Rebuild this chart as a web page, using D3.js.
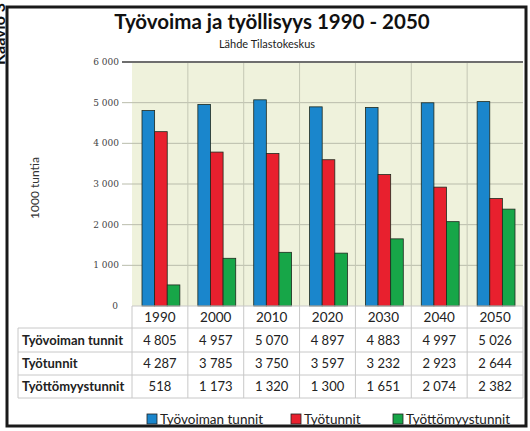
<!DOCTYPE html>
<html lang="fi">
<head>
<meta charset="UTF-8">
<script src="https://d3js.org/d3.v7.min.js"></script>
<style>
  body { margin: 0; background: #fff; }
  svg { display: block; font-family: Lato, "Liberation Sans", sans-serif; }
</style>
<title>Työvoima ja työllisyys 1990 - 2050</title>
</head>
<body>
<script>
// data
const years = ["1990", "2000", "2010", "2020", "2030", "2040", "2050"];
const tyovoima = [4805, 4957, 5070, 4897, 4883, 4997, 5026];
const tyotunnit = [4287, 3785, 3750, 3597, 3232, 2923, 2644];
const tyottomyys = [518, 1173, 1320, 1300, 1651, 2074, 2382];
const seriesNames = ["Työvoiman tunnit", "Työtunnit", "Työttömyystunnit"];
const seriesColors = ["#1a86cc", "#e8202e", "#17a648"];
const yTicks = [0, 1000, 2000, 3000, 4000, 5000, 6000];

const width = 530, height = 431;
const plot = { left: 132, right: 523, top: 62, bottom: 306 };

const svg = d3.select("body").append("svg")
    .attr("width", width)
    .attr("height", height);

// outer black frame
svg.append("rect")
    .attr("x", 7).attr("y", 7)
    .attr("width", 519).attr("height", 419)
    .attr("fill", "#fff")
    .attr("stroke", "#1a1a1a")
    .attr("stroke-width", 3);

// caption at the left edge, left of the frame (cut by the page edge in the scan too)
svg.append("text")
    .attr("transform", "translate(5,3) rotate(-90)")
    .attr("text-anchor", "end")
    .attr("font-size", 16)
    .attr("font-weight", "bold")
    .attr("fill", "#111")
    .text("Kaavio 3");

const x = d3.scaleBand()
    .domain(years)
    .range([plot.left, plot.right]);

const xInner = d3.scaleBand()
    .domain(seriesNames)
    .range([10, x.bandwidth() - 8])
    .padding(0);

const y = d3.scaleLinear()
    .domain([0, 6000])
    .range([plot.bottom, plot.top]);

// plot background
svg.append("rect")
    .attr("x", plot.left).attr("y", plot.top)
    .attr("width", plot.right - plot.left)
    .attr("height", plot.bottom - plot.top)
    .attr("fill", "#eff2dc");

// horizontal gridlines + ticks
svg.append("g").selectAll("line")
    .data(yTicks.filter(d => d > 0 && d < 6000))
    .join("line")
    .attr("x1", 122).attr("x2", plot.right)
    .attr("y1", d => y(d)).attr("y2", d => y(d))
    .attr("stroke", "#b9bcab")
    .attr("stroke-width", 1);

// vertical category separators
svg.append("g").selectAll("line")
    .data(years.slice(1))
    .join("line")
    .attr("x1", d => x(d)).attr("x2", d => x(d))
    .attr("y1", plot.top).attr("y2", plot.bottom)
    .attr("stroke", "#c4c7b4");

// top line at 6000
svg.append("line")
    .attr("x1", 122).attr("x2", plot.right)
    .attr("y1", y(6000)).attr("y2", y(6000))
    .attr("stroke", "#6e6e6e")
    .attr("stroke-width", 2);

// y tick labels
svg.append("g").selectAll("text")
    .data(yTicks)
    .join("text")
    .attr("x", d => d === 0 ? 118 : 119)
    .attr("y", d => y(d) + 3)
    .attr("text-anchor", "end")
    .attr("font-family", "'DejaVu Serif', serif")
    .attr("font-size", 9)
    .attr("fill", "#444")
    .text(d => d === 0 ? "0" : d3.format(",")(d).replace(",", " "));

// y axis title
svg.append("text")
    .attr("transform", `translate(39,${(plot.top + plot.bottom) / 2 + 4}) rotate(-90)`)
    .attr("text-anchor", "middle")
    .attr("font-size", 12)
    .attr("fill", "#333")
    .text("1000 tuntia");

// bars
const series = [tyovoima, tyotunnit, tyottomyys];
const groups = svg.append("g").selectAll("g")
    .data(years)
    .join("g")
    .attr("transform", d => `translate(${x(d)},0)`);

groups.selectAll("rect")
    .data((yr, i) => series.map((s, k) => ({ name: seriesNames[k], value: s[i], color: seriesColors[k] })))
    .join("rect")
    .attr("x", d => xInner(d.name))
    .attr("width", xInner.bandwidth())
    .attr("y", d => y(d.value))
    .attr("height", d => y(0) - y(d.value))
    .attr("fill", d => d.color)
    .attr("stroke", "#1e2a1e")
    .attr("stroke-width", 0.8);

// title
svg.append("text")
    .attr("x", 272).attr("y", 29)
    .attr("text-anchor", "middle")
    .attr("font-size", 20.5)
    .attr("font-weight", "bold")
    .attr("fill", "#111")
    .text("Työvoima ja työllisyys 1990 - 2050");

svg.append("text")
    .attr("x", 267).attr("y", 48)
    .attr("text-anchor", "middle")
    .attr("font-size", 11)
    .attr("fill", "#222")
    .text("Lähde Tilastokeskus");

// data table
const tableLeft = 18;
const rowLines = [306, 328, 352, 375, 398];
const gridColor = "#c8c8c8";

const tg = svg.append("g");
// horizontal lines: header row only over the year columns
tg.append("line")
    .attr("x1", plot.left).attr("x2", plot.right)
    .attr("y1", rowLines[0]).attr("y2", rowLines[0])
    .attr("stroke", gridColor);
tg.selectAll("line.h")
    .data(rowLines.slice(1))
    .join("line")
    .attr("class", "h")
    .attr("x1", tableLeft).attr("x2", plot.right)
    .attr("y1", d => d).attr("y2", d => d)
    .attr("stroke", gridColor);
// vertical lines
tg.selectAll("line.v")
    .data(years.map(d => x(d)).concat([plot.right]))
    .join("line")
    .attr("class", "v")
    .attr("x1", d => d).attr("x2", d => d)
    .attr("y1", rowLines[0]).attr("y2", rowLines[4])
    .attr("stroke", gridColor);
tg.append("line")
    .attr("x1", tableLeft).attr("x2", tableLeft)
    .attr("y1", rowLines[1]).attr("y2", rowLines[4])
    .attr("stroke", gridColor);

// year header
tg.selectAll("text.year")
    .data(years)
    .join("text")
    .attr("class", "year")
    .attr("x", d => x(d) + x.bandwidth() / 2)
    .attr("y", (rowLines[0] + rowLines[1]) / 2 + 5)
    .attr("text-anchor", "middle")
    .attr("font-size", 13.5)
    .attr("fill", "#222")
    .text(d => d);

const fmt = v => d3.format(",")(v).replace(",", " ");
series.forEach((s, k) => {
    const yc = (rowLines[k + 1] + rowLines[k + 2]) / 2 + 4.5;
    tg.append("text")
        .attr("x", tableLeft + 4)
        .attr("y", yc)
        .attr("font-size", 13)
        .attr("font-weight", "bold")
        .attr("fill", "#222")
        .text(seriesNames[k]);
    tg.selectAll(null)
        .data(s)
        .join("text")
        .attr("x", (v, i) => x(years[i]) + x.bandwidth() / 2)
        .attr("y", yc)
        .attr("text-anchor", "middle")
        .attr("font-size", 13)
        .attr("fill", "#222")
        .text(fmt);
});

// legend
const legendX = [147, 291, 393];
const lg = svg.append("g").selectAll("g")
    .data(seriesNames)
    .join("g")
    .attr("transform", (d, i) => `translate(${legendX[i]},414)`);
lg.append("rect")
    .attr("width", 10).attr("height", 10)
    .attr("fill", (d, i) => seriesColors[i])
    .attr("stroke", "#222")
    .attr("stroke-width", 0.8);
lg.append("text")
    .attr("x", 13).attr("y", 10)
    .attr("font-size", 13.5)
    .attr("fill", "#222")
    .text(d => d);
</script>
</body>
</html>
